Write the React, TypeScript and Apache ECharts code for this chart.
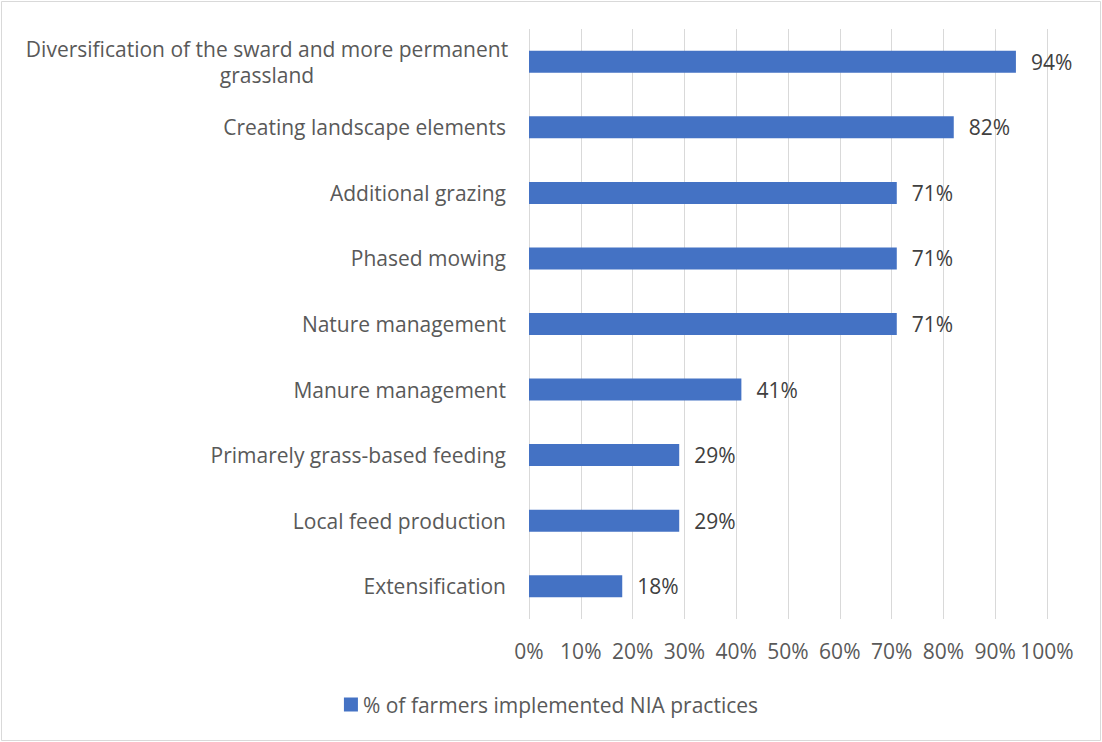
import React, { useEffect, useRef } from "react";
import * as echarts from "echarts";

const categories = [
  "Extensification",
  "Local feed production",
  "Primarely grass-based feeding",
  "Manure management",
  "Nature management",
  "Phased mowing",
  "Additional grazing",
  "Creating landscape elements",
  "Diversification of the sward and more permanent\ngrassland",
];
const values = [18, 29, 29, 41, 71, 71, 71, 82, 94];
const seriesName = "% of farmers implemented NIA practices";
const FONT = "Open Sans";
const FS = 21;

export default function App() {
  const ref = useRef<HTMLDivElement>(null);
  useEffect(() => {
    const chart = echarts.init(ref.current!, null, { renderer: "svg" });
    chart.setOption({
      animation: false,
      textStyle: { fontFamily: FONT },
      grid: { left: 529, right: 55, top: 29, bottom: 123, containLabel: false },
      xAxis: {
        type: "value",
        min: 0,
        max: 100,
        interval: 10,
        axisLine: { show: false },
        axisTick: { show: false },
        splitLine: { show: true, lineStyle: { color: "#d9d9d9", width: 1 } },
        axisLabel: {
          formatter: "{value}%",
          color: "#595959",
          fontSize: FS,
          fontFamily: FONT,
          margin: 21,
        },
      },
      yAxis: {
        type: "category",
        data: categories,
        axisLine: { show: false },
        axisTick: { show: false },
        axisLabel: {
          color: "#595959",
          fontSize: FS,
          fontFamily: FONT,
          margin: 23,
          lineHeight: 26,
          formatter: (v: string) =>
            v.includes("\n")
              ? v.split("\n").map((l) => `{c|${l}}`).join("\n")
              : v,
          rich: {
            c: { width: 478, align: "center", fontSize: FS, color: "#595959", fontFamily: FONT, lineHeight: 26 },
          },
        },
      },
      legend: {
        bottom: 22,
        left: "center",
        itemWidth: 14,
        itemHeight: 14,
        itemGap: 5,
        icon: "rect",
        textStyle: { color: "#595959", fontSize: FS, fontFamily: FONT },
        data: [seriesName],
      },
      series: [
        {
          name: seriesName,
          type: "bar",
          data: values,
          barWidth: 22,
          itemStyle: { color: "#4472c4" },
          label: {
            show: true,
            position: "right",
            distance: 15,
            formatter: "{c}%",
            color: "#404040",
            fontSize: FS,
            fontFamily: FONT,
          },
        },
      ],
      graphic: [
        {
          type: "rect",
          shape: { x: 1.5, y: 1.5, width: 1099, height: 739 },
          style: { fill: "none", stroke: "#d9d9d9", lineWidth: 1 },
          silent: true,
        },
      ],
    });
    return () => chart.dispose();
  }, []);
  return (
    <div
      ref={ref}
      style={{ position: "fixed", left: 0, top: 0, width: 1102, height: 742, background: "#fff" }}
    />
  );
}
